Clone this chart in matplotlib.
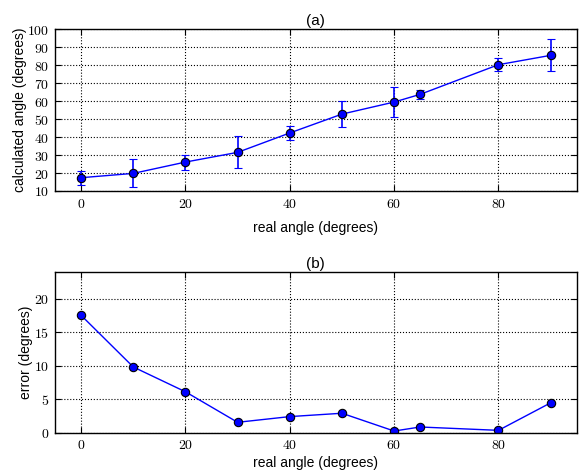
import matplotlib
matplotlib.use("Agg")
import matplotlib.pyplot as plt
from matplotlib.ticker import FuncFormatter, MultipleLocator

# data
real_angle = [0, 10, 20, 30, 40, 50, 60, 65, 80, 90]
calc_angle = [17.4, 19.8, 26.1, 31.5, 42.3, 52.8, 59.5, 63.8, 80.3, 85.5]
calc_err = [3.8, 7.8, 4.2, 8.9, 4.0, 7.3, 8.4, 2.6, 3.5, 8.9]
error_deg = [17.5, 9.8, 6.1, 1.55, 2.4, 2.9, 0.25, 0.85, 0.35, 4.45]

plt.rcParams.update({
    "font.family": ["Liberation Sans", "DejaVu Sans"],
    "mathtext.fontset": "cm",
    "xtick.direction": "in",
    "ytick.direction": "in",
    "xtick.top": True,
    "ytick.right": True,
    "xtick.major.size": 4,
    "ytick.major.size": 4,
    "axes.linewidth": 1.0,
})

cm_fmt = FuncFormatter(lambda v, p: r"$%d$" % round(v))

fig = plt.figure(figsize=(5.8, 4.7), dpi=100)
ax1 = fig.add_axes([55 / 580, 1 - 191 / 470, 521.7 / 580, 161.7 / 470])
ax2 = fig.add_axes([55 / 580, 1 - 432.7 / 470, 521.7 / 580, 161 / 470])

ax1.errorbar(real_angle, calc_angle, yerr=calc_err, color="blue", lw=1,
             marker="o", ms=6, mfc="blue", mec="black", mew=0.8,
             ecolor="blue", elinewidth=1.2, capsize=3, capthick=1.2)
ax1.set_xlim(-5, 95)
ax1.set_ylim(10, 100)
ax1.yaxis.set_major_locator(MultipleLocator(10))
ax1.set_xlabel("real angle (degrees)", fontsize=10, labelpad=7.5)
ax1.set_ylabel("calculated angle (degrees)", fontsize=10, labelpad=0.5)
ax1.set_title("(a)", fontsize=11, pad=3)

ax2.plot(real_angle, error_deg, color="blue", lw=1,
         marker="o", ms=6, mfc="blue", mec="black", mew=0.8)
ax2.set_xlim(-5, 95)
ax2.set_ylim(0, 24)
ax2.yaxis.set_major_locator(MultipleLocator(5))
ax2.set_xlabel("real angle (degrees)", fontsize=10, labelpad=3)
ax2.set_ylabel("error (degrees)", fontsize=10, labelpad=0.5)
ax2.set_title("(b)", fontsize=11, pad=3)

for ax in (ax1, ax2):
    ax.set_xticks([0, 20, 40, 60, 80])
    ax.xaxis.set_major_formatter(cm_fmt)
    ax.yaxis.set_major_formatter(cm_fmt)
    ax.tick_params(labelsize=10, pad=4)
    ax.grid(True, color="black", linestyle=":", linewidth=0.8)

fig.savefig("out.png", dpi=100)
